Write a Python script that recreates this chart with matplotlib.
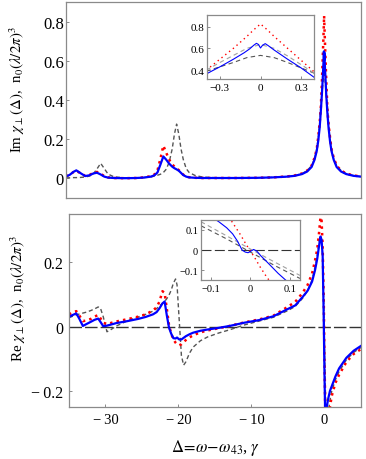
import matplotlib
matplotlib.use('Agg')
import matplotlib.pyplot as plt

plt.rcParams['font.family'] = ['Liberation Serif', 'DejaVu Serif']
plt.rcParams['mathtext.fontset'] = 'stix'

# ---- Im chi (top panel) ----
x_im = [-35, -34.5, -34, -33.6, -33, -32.4, -31.8, -31.3, -30.8, -30.3,
        -29.8, -29.3, -28.5, -27, -25.5, -24.5, -23.5, -23, -22.6, -22.2,
        -21.8, -21.4, -21, -20.6, -20.3, -20, -19.7, -19.4, -19.1, -18.7,
        -18.3, -17.5, -16.5, -15, -12, -9, -7, -5, -4, -3,
        -2.3, -1.7, -1.3, -1, -0.8, -0.6, -0.45, -0.3, -0.2, -0.1,
        -0.03, 0, 0.03, 0.1, 0.2, 0.3, 0.45, 0.6, 0.8, 1,
        1.3, 1.7, 2.3, 3, 4, 5]
im_blue = [0.010, 0.018, 0.033, 0.041, 0.026, 0.012, 0.016, 0.025, 0.029, 0.020,
           0.009, 0.004, 0.002, 0.001, 0.002, 0.004, 0.009, 0.016, 0.030, 0.070,
           0.112, 0.095, 0.075, 0.060, 0.052, 0.046, 0.039, 0.028, 0.017, 0.009,
           0.005, 0.003, 0.002, 0.002, 0.002, 0.003, 0.005, 0.009, 0.013, 0.022,
           0.035, 0.058, 0.095, 0.14, 0.19, 0.26, 0.34, 0.43, 0.50, 0.58,
           0.648, 0.603, 0.643, 0.58, 0.50, 0.42, 0.33, 0.26, 0.19, 0.14,
           0.095, 0.058, 0.035, 0.022, 0.013, 0.009]
im_red = [0.010, 0.018, 0.032, 0.038, 0.026, 0.013, 0.018, 0.028, 0.033, 0.024,
          0.011, 0.005, 0.002, 0.001, 0.002, 0.005, 0.011, 0.020, 0.040, 0.100,
          0.167, 0.130, 0.095, 0.072, 0.060, 0.052, 0.042, 0.030, 0.019, 0.010,
          0.006, 0.003, 0.002, 0.002, 0.002, 0.003, 0.005, 0.010, 0.015, 0.025,
          0.040, 0.065, 0.105, 0.15, 0.21, 0.285, 0.36, 0.49, 0.60, 0.71,
          0.79, 0.83, 0.79, 0.71, 0.60, 0.49, 0.35, 0.28, 0.21, 0.15,
          0.105, 0.065, 0.040, 0.025, 0.015, 0.010]
im_gray = [0.003, 0.003, 0.004, 0.004, 0.005, 0.007, 0.012, 0.023, 0.048, 0.077,
           0.050, 0.022, 0.008, 0.003, 0.003, 0.004, 0.007, 0.012, 0.016, 0.021,
           0.030, 0.047, 0.084, 0.150, 0.225, 0.277, 0.225, 0.150, 0.097, 0.050,
           0.030, 0.015, 0.007, 0.004, 0.002, 0.003, 0.005, 0.009, 0.014, 0.024,
           0.040, 0.065, 0.10, 0.15, 0.205, 0.28, 0.37, 0.42, 0.47, 0.515,
           0.532, 0.535, 0.532, 0.515, 0.47, 0.42, 0.37, 0.28, 0.205, 0.15,
           0.10, 0.065, 0.040, 0.024, 0.014, 0.009]

# zoom of the Im peak at 0
x_im_blue_z = [-0.4, -0.3, -0.2, -0.12, -0.08, -0.05, -0.03, -0.015, 0,
               0.015, 0.035, 0.06, 0.1, 0.2, 0.3, 0.4]
im_blue_z = [0.365, 0.43, 0.50, 0.56, 0.595, 0.628, 0.646, 0.635, 0.603,
             0.628, 0.643, 0.622, 0.585, 0.50, 0.42, 0.33]
x_im_red_z = [-0.4, -0.3, -0.2, -0.1, -0.05, 0, 0.05, 0.1, 0.2, 0.3, 0.4]
im_red_z = [0.40, 0.50, 0.60, 0.71, 0.77, 0.824, 0.77, 0.71, 0.60, 0.49, 0.38]
x_im_gray_z = [-0.4, -0.3, -0.2, -0.1, 0, 0.1, 0.2, 0.3, 0.4]
im_gray_z = [0.39, 0.43, 0.47, 0.515, 0.535, 0.515, 0.47, 0.42, 0.37]
im_lgray_z = [0.40, 0.47, 0.535, 0.60, 0.635, 0.60, 0.53, 0.45, 0.37]

# ---- Re chi (bottom panel) ----
x_re = [-35, -34.5, -34, -33.6, -33.1, -32.6, -32, -31.5, -31, -30.7,
        -30.3, -29.8, -29.3, -28.5, -27, -25.5, -24.5, -23.5, -23, -22.6,
        -22.2, -21.9, -21.6, -21.3, -21, -20.7, -20.4, -20.2, -19.9, -19.6,
        -19.3, -19, -18.5, -18, -17, -16, -14.5, -13, -11, -9,
        -7, -5, -4, -3, -2.3, -1.7, -1.3, -1, -0.75, -0.55,
        -0.4, -0.25, -0.1, 0, 0.1, 0.2, 0.35, 0.5, 0.75, 1,
        1.5, 2, 3, 4, 5]
re_blue = [0.030, 0.036, 0.041, 0.025, 0.002, 0.008, 0.015, 0.021, 0.025, 0.015,
           0.001, 0.003, 0.006, 0.011, 0.017, 0.024, 0.030, 0.038, 0.045, 0.057,
           0.072, 0.078, 0.035, -0.003, -0.022, -0.036, -0.037, -0.034, -0.040, -0.040,
           -0.035, -0.030, -0.024, -0.019, -0.013, -0.009, -0.004, 0.002, 0.012, 0.020,
           0.032, 0.055, 0.066, 0.092, 0.112, 0.14, 0.175, 0.21, 0.25, 0.28,
           0.27, 0.22, 0.02, -0.15, -0.28, -0.27, -0.245, -0.225, -0.20, -0.185,
           -0.155, -0.13, -0.097, -0.075, -0.06]
re_red = [0.038, 0.044, 0.048, 0.035, 0.017, 0.019, 0.024, 0.031, 0.036, 0.026,
          0.012, 0.008, 0.011, 0.016, 0.023, 0.031, 0.038, 0.050, 0.060, 0.078,
          0.110, 0.105, 0.055, 0.005, -0.022, -0.040, -0.050, -0.055, -0.058, -0.055,
          -0.048, -0.042, -0.034, -0.027, -0.018, -0.012, -0.005, 0.002, 0.013, 0.022,
          0.034, 0.062, 0.077, 0.105, 0.13, 0.165, 0.205, 0.24, 0.29, 0.34,
          0.33, 0.25, 0.08, -0.10, -0.25, -0.33, -0.33, -0.31, -0.25, -0.215,
          -0.175, -0.15, -0.11, -0.085, -0.07]
re_gray = [0.028, 0.032, 0.036, 0.039, 0.042, 0.045, 0.050, 0.055, 0.061, 0.058,
           0.030, -0.016, -0.010, 0.002, 0.018, 0.030, 0.038, 0.048, 0.056, 0.064,
           0.072, 0.078, 0.087, 0.098, 0.113, 0.135, 0.148, 0.130, 0.020, -0.090,
           -0.120, -0.110, -0.083, -0.064, -0.044, -0.032, -0.020, -0.010, 0.005, 0.017,
           0.029, 0.050, 0.063, 0.088, 0.112, 0.145, 0.185, 0.22, 0.26, 0.28,
           0.27, 0.22, 0.07, -0.05, -0.18, -0.26, -0.28, -0.27, -0.23, -0.20,
           -0.165, -0.14, -0.103, -0.08, -0.065]

# zoom of the Re crossing at 0
x_re_blue_z = [-0.125, -0.1, -0.08, -0.06, -0.045, -0.033, -0.021, -0.013, -0.006,
               0.0, 0.008, 0.016, 0.027, 0.04, 0.055, 0.07, 0.09, 0.11]
re_blue_z = [0.19, 0.165, 0.14, 0.11, 0.08, 0.045, 0.0, -0.01, -0.013,
             -0.007, 0.003, -0.005, -0.03, -0.055, -0.085, -0.115, -0.15, -0.18]
x_re_red_z = [-0.07, -0.055, -0.04, -0.025, -0.01, 0, 0.01, 0.025, 0.04, 0.055, 0.07]
re_red_z = [0.2, 0.165, 0.12, 0.075, 0.025, -0.005, -0.035, -0.085, -0.13, -0.17, -0.2]
x_re_gray_z = [-0.125, -0.06, 0, 0.06, 0.125]
re_gray_z = [0.12, 0.055, -0.01, -0.075, -0.14]
re_lgray_z = [0.14, 0.07, 0.005, -0.058, -0.125]

im_ticks = [0, 0.2, 0.4, 0.6, 0.8]
im_ticklabels = ['0', '0.2', '0.4', '0.6', '0.8']
re_ticks = [-0.2, 0, 0.2]
re_ticklabels = ['\u2212\u20090.2', '0', '0.2']
x_ticks = [-30, -20, -10, 0]
x_ticklabels = ['\u2212\u200930', '\u2212\u200920', '\u2212\u200910', '0']

BLUE = '#0000ff'
RED = '#ff0000'
DGRAY = '#555555'
LGRAY = '#a0a0a0'
FRAME = '#8a8a8a'


def frame(ax, size, pad):
    for sp in ax.spines.values():
        sp.set_color(FRAME)
        sp.set_linewidth(0.9)
    ax.tick_params(direction='in', length=2.5, width=0.7, color=FRAME,
                   labelsize=size, pad=pad)


fig = plt.figure(figsize=(3.66, 4.6), dpi=100)
ax1 = fig.add_axes([0.1803, 0.5674, 0.806, 0.4261])
ax2 = fig.add_axes([0.1885, 0.1130, 0.7978, 0.4196])

# top panel
ax1.plot(x_im, im_gray, color=DGRAY, lw=1.0, dashes=(3, 2))
ax1.plot(x_im, im_red, color=RED, lw=1.8, ls=':')
ax1.plot(x_im, im_blue, color=BLUE, lw=1.6)
ax1.set_xlim(-35, 5)
ax1.set_ylim(-0.1, 0.9)
ax1.set_xticks([])
ax1.set_yticks(im_ticks)
ax1.set_yticklabels(im_ticklabels)
frame(ax1, 12, 1.5)

# bottom panel
ax2.axhline(0, color='#333333', lw=1.0, dashes=(9, 2.2))
ax2.plot(x_re, re_gray, color=DGRAY, lw=1.0, dashes=(3, 2))
ax2.plot(x_re, re_red, color=RED, lw=1.8, ls=':')
ax2.plot(x_re, re_blue, color=BLUE, lw=1.6)
ax2.set_xlim(-35, 5)
ax2.set_ylim(-0.25, 0.35)
ax2.set_xticks(x_ticks)
ax2.set_xticklabels(x_ticklabels)
ax2.set_yticks(re_ticks)
ax2.set_yticklabels(re_ticklabels)
frame(ax2, 11.5, 4)
ax2.tick_params(axis='x', labelsize=10.5, pad=4)

fig.text(0.046, 0.806, r'Im $\chi_{\perp}(\Delta)$,  n$_0(\lambda/2\pi)^3$',
         rotation=90, ha='center', va='center', fontsize=10.8)
fig.text(0.05, 0.35, r'Re $\chi_{\perp}(\Delta)$,  n$_0(\lambda/2\pi)^3$',
         rotation=90, ha='center', va='center', fontsize=10.8)
fig.text(0.59, 0.026, r'$\Delta\!=\!\omega\!-\!\omega_{43}$, $\gamma$',
         ha='center', va='center', fontsize=12)

# inset, Im
ins1 = fig.add_axes([0.5656, 0.826, 0.2923, 0.139])
ins1.plot(x_im_gray_z, im_gray_z, color=DGRAY, lw=0.8, dashes=(4, 3))
ins1.plot(x_im_gray_z, im_lgray_z, color=LGRAY, lw=0.8, dashes=(4, 3))
ins1.plot(x_im_red_z, im_red_z, color=RED, lw=1.0, dashes=(1, 2.5))
ins1.plot(x_im_blue_z, im_blue_z, color=BLUE, lw=0.8)
ins1.set_xlim(-0.395, 0.395)
ins1.set_ylim(0.318, 0.905)
ins1.set_xticks([-0.3, 0, 0.3])
ins1.set_xticklabels(['\u22120.3', '0', '0.3'])
ins1.set_yticks([0.4, 0.6, 0.8])
ins1.set_yticklabels(['0.4', '0.6', '0.8'])
frame(ins1, 8, 2)
ins1.tick_params(axis='x', pad=3)

# inset, Re
ins2 = fig.add_axes([0.549, 0.389, 0.2705, 0.1304])
ins2.axhline(0, color='#333333', lw=0.8, dashes=(9, 3))
ins2.plot(x_re_gray_z, re_gray_z, color=DGRAY, lw=0.8, dashes=(4, 3))
ins2.plot(x_re_gray_z, re_lgray_z, color=LGRAY, lw=0.8, dashes=(4, 3))
ins2.plot(x_re_red_z, re_red_z, color=RED, lw=1.0, dashes=(1, 2.5))
ins2.plot(x_re_blue_z, re_blue_z, color=BLUE, lw=0.8)
ins2.set_xlim(-0.125, 0.125)
ins2.set_ylim(-0.148, 0.148)
ins2.set_xticks([-0.1, 0, 0.1])
ins2.set_xticklabels(['\u22120.1', '0', '0.1'])
ins2.set_yticks([-0.1, 0, 0.1])
ins2.set_yticklabels(['\u22120.1', '0', '0.1'])
frame(ins2, 7.5, 2)
ins2.tick_params(axis='x', pad=3)

fig.savefig('out.png', dpi=100)
